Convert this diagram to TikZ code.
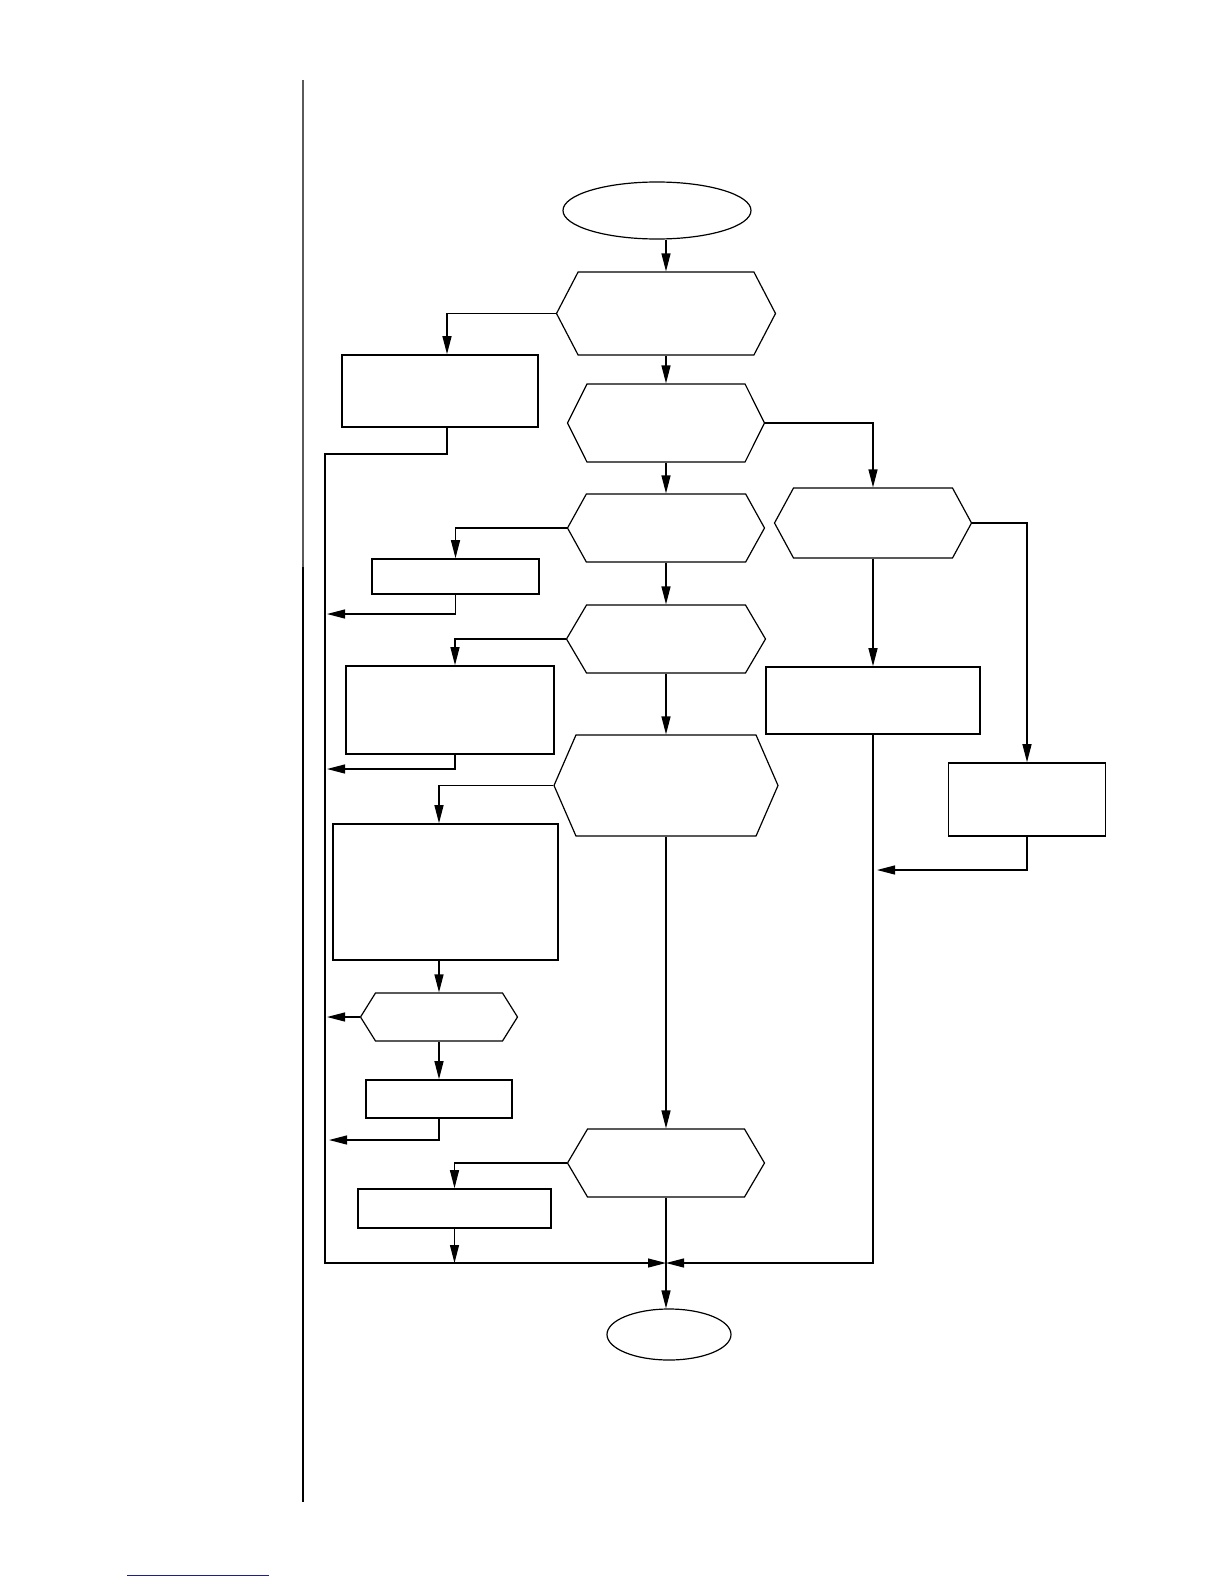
\documentclass[tikz,border=0pt]{standalone}
\usepackage{xcolor}
\definecolor{pagegray}{RGB}{90,90,90}
\definecolor{linkblue}{RGB}{30,30,140}
\usetikzlibrary{arrows.meta,positioning,shapes.geometric,shapes.symbols}

\begin{document}
\begin{tikzpicture}[x=0.5pt,y=-0.5pt,
  proc/.style={draw,line width=0.8pt,inner sep=0pt},
  cond/.style={draw,line width=0.6pt,inner sep=0pt,shape=signal,signal to=east and west,signal pointer angle=#1},
  term/.style={draw,line width=0.6pt,ellipse,inner sep=0pt},
  flow/.style={line width=0.6pt,-{Triangle[length=9pt,width=4.5pt]}}]
  \useasboundingbox (0,0) rectangle (1224,1584);
  % page rule and footer link
  \draw[pagegray,line width=0.65pt] (303,80) -- (303,567);
  \draw[line width=0.65pt] (303,567) -- (303,1502);
  \draw[linkblue,line width=0.5pt] (127,1575) -- (269,1575);

  % main column
  \node[term,minimum width=94pt,minimum height=28.5pt] (start) at (657,210.5) {};
  \node[cond=125,minimum width=109.5pt,minimum height=41.5pt] (d1) at (666,313.5) {};
  \node[cond=127,minimum width=98.5pt,minimum height=39pt] (d2) at (666,423) {};
  \node[cond=122,minimum width=98.5pt,minimum height=34pt] (d3) at (666,528) {};
  \node[cond=119,minimum width=99.5pt,minimum height=34pt] (d4) at (666,639) {};
  \node[cond=133,minimum width=112pt,minimum height=50.5pt] (d5) at (666,785.5) {};
  \node[cond=119,minimum width=98.5pt,minimum height=34pt] (d7) at (666,1163) {};
  \node[term,minimum width=62pt,minimum height=25.5pt] (stop) at (669,1334.5) {};

  % left branches
  \node[proc,minimum width=98pt,minimum height=36pt] (b1) at (440,391) {};
  \node[proc,minimum width=83.5pt,minimum height=17.5pt] (b2) at (455.5,576.5) {};
  \node[proc,minimum width=104pt,minimum height=44pt] (b3) at (450,710) {};
  \node[proc,minimum width=112.5pt,minimum height=68pt] (b4) at (445.5,892) {};
  \node[cond=116,minimum width=78.5pt,minimum height=24pt] (d6) at (439,1017) {};
  \node[proc,minimum width=73pt,minimum height=19pt] (b5) at (439,1099) {};
  \node[proc,minimum width=96.5pt,minimum height=19.5pt] (b6) at (454.5,1208.5) {};

  % right branches
  \node[cond=123,minimum width=98.5pt,minimum height=35pt] (dR) at (873,523) {};
  \node[proc,minimum width=107pt,minimum height=33.5pt] (b7) at (873,700.5) {};
  \node[proc,minimum width=78.5pt,minimum height=36.5pt] (b8) at (1027,799.5) {};

  % bus points
  \coordinate (lbus) at (325,454);
  \coordinate (join) at (666,1263);
  \coordinate (r2) at (327,614);
  \coordinate (r3) at (327,769);
  \coordinate (r6) at (327,1017);
  \coordinate (r5) at (329,1140);
  \coordinate (r8) at (877,870);

  \draw[flow] (start.south -| d1.north) -- (d1.north);
  \draw[flow] (d1.south) -- (d2.north);
  \draw[flow] (d2.south) -- (d3.north);
  \draw[flow] (d3.south) -- (d4.north);
  \draw[flow] (d4.south) -- (d5.north);
  \draw[flow] (d5.south) -- (d7.north);
  \draw[line width=0.6pt] (d7.south) -- (join);
  \draw[flow] (join) -- (join |- stop.north);

  \draw[flow] (d1.west) -| ([xshift=3.5pt]b1.north);
  \draw[flow] ([xshift=3.5pt]b1.south) |- (lbus) -- (lbus |- join) -- (join);
  \draw[flow] (d3.west) -| (b2.north);
  \draw[flow] (b2.south) |- (r2);
  \draw[flow] (d4.west) -| ([xshift=2.5pt]b3.north);
  \draw[flow] ([xshift=2.5pt]b3.south) |- (r3);
  \draw[flow] (d5.west) -| (d6.north |- b4.north);
  \draw[flow] (d6.north |- b4.south) -- (d6.north);
  \draw[flow] (d6.west) -- (r6);
  \draw[flow] (d6.south) -- (b5.north);
  \draw[flow] (b5.south) |- (r5);
  \draw[flow] (d7.west) -| (b6.north);
  \draw[flow] (b6.south) -- (b6.south |- join);

  \draw[flow] (d2.east) -| (dR.north);
  \draw[flow] (dR.south) -- (b7.north);
  \draw[flow] (dR.east) -| (b8.north);
  \draw[flow] (b8.south) |- (r8);
  \draw[flow] (b7.south) |- (join);
\end{tikzpicture}
\end{document}
